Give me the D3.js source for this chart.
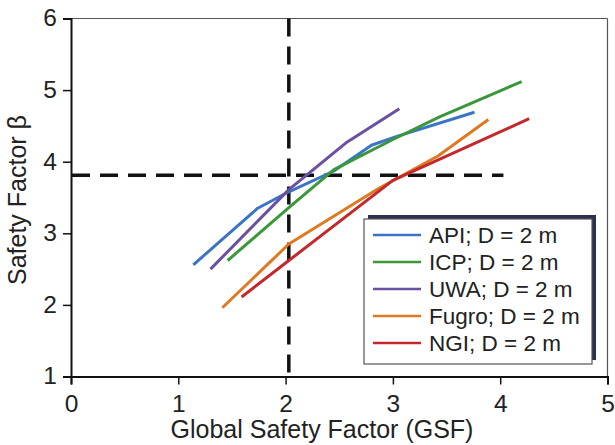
<!DOCTYPE html>
<html><head><meta charset="utf-8">
<script src="https://cdn.jsdelivr.net/npm/d3@7"></script>
<style>body{margin:0;background:#fff}svg{display:block}</style>
</head><body>
<svg id="c" width="615" height="445"></svg>
<script>
const xTicks = [0,1,2,3,4,5];
const yTicks = [1,2,3,4,5,6];
const seriesNames = ["API; D = 2 m","ICP; D = 2 m","UWA; D = 2 m","Fugro; D = 2 m","NGI; D = 2 m"];
const seriesColors = ["#3b74c6","#3a983a","#6a50a2","#e07a22","#c2282c"];
const apiX = [1.14,1.74,2.03,2.45,2.80,3.03,3.76];
const apiY = [2.56,3.35,3.58,3.87,4.23,4.35,4.69];
const icpX = [1.46,2.03,2.45,3.00,3.44,4.20];
const icpY = [2.62,3.36,3.89,4.31,4.63,5.12];
const uwaX = [1.30,2.03,2.56,3.06];
const uwaY = [2.50,3.61,4.26,4.74];
const fugroX = [1.41,2.03,2.87,3.42,3.89];
const fugroY = [1.96,2.85,3.63,4.08,4.59];
const ngiX = [1.59,2.03,3.00,4.27];
const ngiY = [2.11,2.62,3.74,4.60];
const refGSF = 2.03;
const refBeta = 3.81;
const refBetaEnd = 4.03;

const svg = d3.select("#c");
const x = d3.scaleLinear().domain([0,5]).range([71,607.5]);
const y = d3.scaleLinear().domain([1,6]).range([376.5,18.5]);
const font = "'Liberation Sans', Arial, sans-serif";

// frame top/right
svg.append("line").attr("x1",x(0)).attr("x2",x(5)).attr("y1",y(6)).attr("y2",y(6)).attr("stroke","#555").attr("stroke-width",1);
svg.append("line").attr("x1",x(5)).attr("x2",x(5)).attr("y1",y(6)).attr("y2",y(1)).attr("stroke","#555").attr("stroke-width",1.2);

// axes
const xa = svg.append("g").attr("transform",`translate(0,${y(1)})`)
  .call(d3.axisBottom(x).tickValues(xTicks).tickFormat(d3.format("d")).tickSizeOuter(0).tickSize(8).tickPadding(10));
const ya = svg.append("g").attr("transform",`translate(${x(0)},0)`)
  .call(d3.axisLeft(y).tickValues(yTicks).tickFormat(d3.format("d")).tickSizeOuter(0).tickSize(8).tickPadding(6));
[xa,ya].forEach(g=>{
  g.select(".domain").attr("stroke","#111").attr("stroke-width",2);
  g.selectAll(".tick line").attr("stroke","#111").attr("stroke-width",1.5);
  g.selectAll(".tick text").attr("font-family",font).attr("font-size",24.5).attr("fill","#222");
});
ya.selectAll(".tick text").attr("dy","0.3em");

// dashed reference lines
svg.append("line").attr("x1",x(refGSF)).attr("x2",x(refGSF)).attr("y1",y(6)).attr("y2",y(1))
  .attr("stroke","#111").attr("stroke-width",3.5).attr("stroke-dasharray","18,10");
svg.append("line").attr("x1",x(0)+1).attr("x2",x(refBetaEnd)).attr("y1",y(refBeta)).attr("y2",y(refBeta))
  .attr("stroke","#111").attr("stroke-width",3.5).attr("stroke-dasharray","18,10");

// series
const data = [[apiX,apiY],[icpX,icpY],[uwaX,uwaY],[fugroX,fugroY],[ngiX,ngiY]];
const line = d3.line().x(d=>x(d[0])).y(d=>y(d[1]));
data.forEach((s,i)=>{
  const pts = s[0].map((v,j)=>[v,s[1][j]]);
  svg.append("path").datum(pts).attr("d",line).attr("fill","none")
    .attr("stroke",seriesColors[i]).attr("stroke-width",3).attr("stroke-linejoin","round");
});

// legend
const lg = svg.append("g");
lg.append("rect").attr("x",368).attr("y",215).attr("width",228).attr("height",145).attr("fill","#2b3050");
lg.append("rect").attr("x",364).attr("y",219).attr("width",228).attr("height",145).attr("fill","#fff").attr("stroke","#555").attr("stroke-width",1.2);
seriesNames.forEach((n,i)=>{
  const yy = 235 + i*27;
  lg.append("line").attr("x1",373).attr("x2",421).attr("y1",yy).attr("y2",yy).attr("stroke",seriesColors[i]).attr("stroke-width",2.5);
  lg.append("text").attr("x",429).attr("y",yy).attr("dy","0.36em").attr("font-family",font).attr("font-size",22.5).attr("fill","#222").text(n);
});

// axis titles
svg.append("text").attr("x",322).attr("y",438).attr("text-anchor","middle").attr("font-family",font).attr("font-size",25).attr("fill","#222").text("Global Safety Factor (GSF)");
svg.append("text").attr("transform",`translate(26,200) rotate(-90)`).attr("text-anchor","middle").attr("font-family",font).attr("font-size",25).attr("fill","#222").text("Safety Factor β");
</script>
</body></html>
